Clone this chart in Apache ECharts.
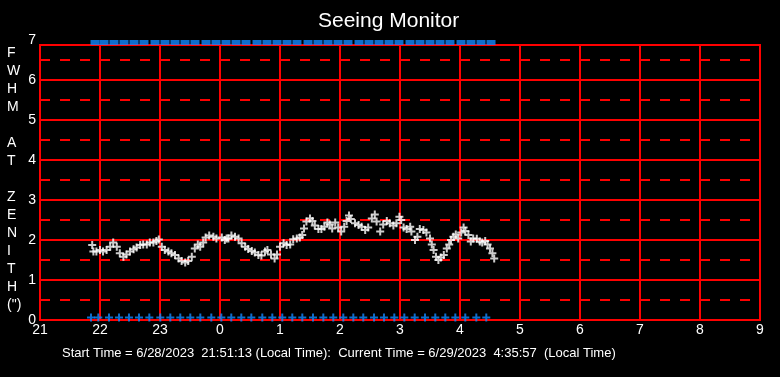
<!DOCTYPE html>
<html>
<head>
<meta charset="utf-8">
<script src="https://cdn.jsdelivr.net/npm/echarts@6/dist/echarts.min.js"></script>
<style>
  html, body { margin: 0; background: #000; }
  #main { width: 780px; height: 377px; }
</style>
</head>
<body>
<div id="main"></div>
<script>
// hours since midnight of 6/28 (24+ = next day)
const hourTicks = [21, 22, 23, 0, 1, 2, 3, 4, 5, 6, 7, 8, 9]

const fwhmTimes = [
  21.87, 21.89, 21.94, 22.0, 22.05, 22.11, 22.17, 22.22, 22.28, 22.33, 22.39, 22.44, 22.5, 22.56, 22.61,
  22.67, 22.72, 22.78, 22.83, 22.89, 22.94, 22.98, 23.03, 23.08, 23.14, 23.19, 23.25, 23.31, 23.36, 23.42,
  23.47, 23.53, 23.58, 23.63, 23.67, 23.72, 23.76, 23.82, 23.89, 23.94, 24.03, 24.08, 24.11, 24.14, 24.19,
  24.25, 24.31, 24.36, 24.42, 24.47, 24.53, 24.58, 24.64, 24.69, 24.75, 24.79, 24.85, 24.91, 24.95, 25.0,
  25.06, 25.11, 25.17, 25.22, 25.28, 25.33, 25.37, 25.4, 25.44, 25.5, 25.54, 25.58, 25.64, 25.69, 25.74,
  25.79, 25.83, 25.87, 25.92, 25.97, 26.02, 26.07, 26.11, 26.15, 26.18, 26.25, 26.31, 26.36, 26.42, 26.47,
  26.53, 26.58, 26.61, 26.67, 26.72, 26.78, 26.83, 26.89, 26.94, 26.99, 27.02, 27.06, 27.11, 27.17, 27.19,
  27.25, 27.29, 27.33, 27.39, 27.44, 27.5, 27.53, 27.56, 27.6, 27.64, 27.68, 27.73, 27.78, 27.82, 27.85,
  27.89, 27.93, 27.97, 28.02, 28.06, 28.09, 28.14, 28.18, 28.22, 28.28, 28.33, 28.37, 28.42, 28.46, 28.5,
  28.54, 28.57
]
const fwhmValues = [
  1.875, 1.71, 1.71, 1.75, 1.71, 1.75, 1.83, 1.94, 1.83, 1.67, 1.58, 1.64, 1.71, 1.77, 1.81,
  1.875, 1.89, 1.89, 1.94, 1.94, 1.975, 2.01, 1.83, 1.75, 1.71, 1.67, 1.625, 1.54, 1.475, 1.44,
  1.475, 1.58, 1.79, 1.89, 1.83, 1.94, 2.06, 2.11, 2.08, 2.04, 2.06, 2.0, 2.04, 2.04, 2.11,
  2.08, 2.04, 1.92, 1.83, 1.775, 1.725, 1.69, 1.625, 1.61, 1.71, 1.75, 1.64, 1.54, 1.64, 1.83,
  1.92, 1.875, 1.89, 2.02, 2.04, 2.06, 2.125, 2.29, 2.46, 2.54, 2.475, 2.36, 2.275, 2.275, 2.33,
  2.44, 2.39, 2.29, 2.44, 2.31, 2.21, 2.33, 2.475, 2.61, 2.525, 2.42, 2.375, 2.33, 2.25, 2.31,
  2.54, 2.64, 2.46, 2.21, 2.39, 2.475, 2.42, 2.36, 2.42, 2.58, 2.5, 2.31, 2.275, 2.33, 2.21,
  2.0, 2.08, 2.275, 2.25, 2.19, 2.04, 1.89, 1.75, 1.58, 1.5, 1.56, 1.625, 1.79, 1.89, 2.0,
  2.08, 2.14, 2.04, 2.19, 2.31, 2.225, 2.125, 1.96, 2.04, 2.03, 1.96, 1.94, 1.975, 1.89, 1.79,
  1.67, 1.54
]

// blue markers pinned to the top of the scale
const topTimes = [
  21.917, 22.067, 22.233, 22.4, 22.567, 22.733, 22.917, 23.083, 23.25, 23.417, 23.583, 23.767, 23.933,
  24.1, 24.267, 24.433, 24.617, 24.783, 24.95, 25.117, 25.283, 25.467, 25.633, 25.8, 25.967, 26.133,
  26.317, 26.483, 26.65, 26.817, 26.983, 27.167, 27.333, 27.5, 27.667, 27.833, 28.017, 28.183, 28.35, 28.517
]
// blue markers on the zero line
const bottomTimes = [
  21.85, 21.972, 22.15, 22.317, 22.483, 22.65, 22.822, 23.005, 23.172, 23.338, 23.505, 23.672, 23.855,
  24.022, 24.188, 24.355, 24.522, 24.705, 24.872, 25.038, 25.205, 25.372, 25.55, 25.722, 25.888, 26.055,
  26.222, 26.388, 26.567, 26.733, 26.905, 27.072, 27.245, 27.417, 27.588, 27.755, 27.922, 28.088, 28.272, 28.438
]

const yTitle = ['F', 'W', 'H', 'M', '', 'A', 'T', '', 'Z', 'E', 'N', 'I', 'T', 'H', '(")']

const plus = 'path://M3,0h2v3h3v2h-3v3h-2v-3h-3v-2h3z'
const font = 'Liberation Sans'
const red = '#ff0000'
const blue = '#1188ff'

const myChart = echarts.init(document.getElementById('main'))
myChart.setOption({
  backgroundColor: '#000',
  animation: false,
  title: {
    text: 'Seeing Monitor',
    left: 313,
    top: 6,
    textStyle: { color: '#fff', fontSize: 21, fontWeight: 'normal', fontFamily: font }
  },
  grid: [
    { left: 40, right: 20, top: 45, bottom: 57, show: true, borderColor: red, borderWidth: 2 },
    { left: 40, right: 20, top: 40, bottom: 57 }
  ],
  xAxis: [
    {
      gridIndex: 0, type: 'value', min: 21, max: 33, interval: 1,
      axisLine: { show: false }, axisTick: { show: false }, axisLabel: { show: false },
      splitLine: { lineStyle: { color: red, width: 2 } }
    },
    {
      gridIndex: 1, type: 'value', min: 21, max: 33, interval: 1,
      axisLine: { show: false }, axisTick: { show: false }, splitLine: { show: false },
      axisLabel: {
        color: '#fff', fontSize: 14, fontFamily: font, margin: 3,
        formatter: v => String(hourTicks[Math.round(v) - 21])
      }
    }
  ],
  yAxis: [
    {
      gridIndex: 0, type: 'value', min: 0, max: 6.875, interval: 0.5,
      axisLine: { show: false }, axisTick: { show: false }, axisLabel: { show: false },
      splitLine: { lineStyle: { color: red, width: 2, type: [10, 10] } }
    },
    {
      gridIndex: 0, type: 'value', min: 0, max: 6.875, interval: 1,
      axisLine: { show: false }, axisTick: { show: false }, axisLabel: { show: false },
      splitLine: { lineStyle: { color: red, width: 2 } }
    },
    {
      gridIndex: 1, type: 'value', min: 0, max: 7, interval: 1,
      axisLine: { show: false }, axisTick: { show: false }, splitLine: { show: false },
      axisLabel: { color: '#fff', fontSize: 14, fontFamily: font, margin: 4 }
    }
  ],
  graphic: [
    {
      type: 'text', left: 7, top: 44,
      style: {
        text: yTitle.join('\n'), fill: '#fff', font: '14px "Liberation Sans"',
        lineHeight: 18, align: 'center', width: 14
      }
    },
    {
      type: 'text', left: 62, top: 347,
      style: {
        text: 'Start Time = 6/28/2023  21:51:13 (Local Time):  Current Time = 6/29/2023  4:35:57  (Local Time)',
        fill: '#fff', font: '13px "Liberation Sans"'
      }
    }
  ],
  series: [
    {
      name: 'fwhm', type: 'scatter', xAxisIndex: 1, yAxisIndex: 2, clip: false,
      symbol: plus, symbolSize: 8,
      itemStyle: { color: '#fff' },
      data: fwhmTimes.map((t, i) => [t, fwhmValues[i]])
    },
    {
      name: 'top', type: 'scatter', xAxisIndex: 1, yAxisIndex: 2, clip: false,
      symbol: 'rect', symbolSize: [9, 5], symbolOffset: [0, 2.5],
      itemStyle: { color: blue },
      data: topTimes.map(t => [t, 7])
    },
    {
      name: 'bottom', type: 'scatter', xAxisIndex: 1, yAxisIndex: 2, clip: false,
      symbol: plus, symbolSize: 8, symbolOffset: [0, -2.5],
      itemStyle: { color: blue },
      data: bottomTimes.map(t => [t, 0])
    }
  ]
})
</script>
</body>
</html>
